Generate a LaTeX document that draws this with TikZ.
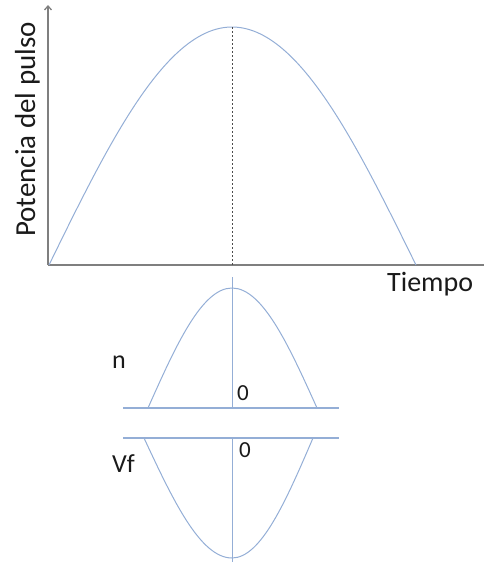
\documentclass[tikz,border=0pt]{standalone}
\usepackage{fontspec}
\setmainfont{Carlito}
\usetikzlibrary{arrows.meta}
\definecolor{curveblue}{HTML}{94AED6}
\definecolor{axisgray}{HTML}{7F7F7F}
\definecolor{txt}{HTML}{1A1A1A}
\begin{document}
\begin{tikzpicture}[x=1pt,y=-1pt,
  axisline/.style={draw=axisgray,line width=1.3pt},
  curve/.style={draw=curveblue,line width=1pt},
  baseline/.style={draw=curveblue,line width=1.3pt},
  lbl/.style={inner sep=0pt,text=txt}]
\useasboundingbox (0,0) rectangle (484,563);
% axes
\coordinate (O) at (48,265);
\coordinate (Ytop) at (48,5);
\coordinate (Xend) at (484,265);
\draw[axisline,-{Straight Barb[length=4pt,width=7pt]}] (O) -- (Ytop);
\draw[axisline] (O) -- (Xend);
% main pulse
\coordinate (P0) at (49,265);
\coordinate (Ppk) at (232,27);
\coordinate (P1) at (416,265);
\coordinate (Pft) at (232,265);
\draw[curve] (P0) sin (Ppk) cos (P1);
\draw[draw=axisgray!60!black,line width=1pt,dash pattern=on 2pt off 2pt] (Ppk) -- (Pft);
\node[lbl,anchor=base west,font=\fontsize{28}{28}\selectfont] (tiempo) at (387,291) {Tiempo};
\node[lbl,anchor=base,rotate=90,font=\fontsize{29}{29}\selectfont] (potencia) at (35,129.5) {Potencia del pulso};
% n graph
\coordinate (NL) at (123,408);
\coordinate (NR) at (339,408);
\coordinate (N0) at (148,408);
\coordinate (Npk) at (232,288);
\coordinate (N1) at (317,408);
\coordinate (Ntop) at (232,277);
\coordinate (Nbot) at (232,408);
\draw[baseline] (NL) -- (NR);
\draw[curve] (N0) sin (Npk) cos (N1);
\draw[curve] (Ntop) -- (Nbot);
\node[lbl,anchor=base west,font=\fontsize{26}{26}\selectfont] (n) at (112,368) {n};
\node[lbl,anchor=base west,font=\fontsize{23}{23}\selectfont] (zeroA) at (237,400) {0};
% Vf graph
\coordinate (VL) at (123,438);
\coordinate (VR) at (339,438);
\coordinate (V0) at (144,438);
\coordinate (Vpk) at (232,558);
\coordinate (V1) at (313,438);
\coordinate (Vtop) at (232,438);
\coordinate (Vbot) at (232,562);
\draw[baseline] (VL) -- (VR);
\draw[curve] (V0) sin (Vpk) cos (V1);
\draw[curve] (Vtop) -- (Vbot);
\node[lbl,anchor=base west,font=\fontsize{26}{26}\selectfont] (vf) at (112,472) {Vf};
\node[lbl,anchor=base west,font=\fontsize{23}{23}\selectfont] (zeroB) at (239,457) {0};
\end{tikzpicture}
\end{document}
